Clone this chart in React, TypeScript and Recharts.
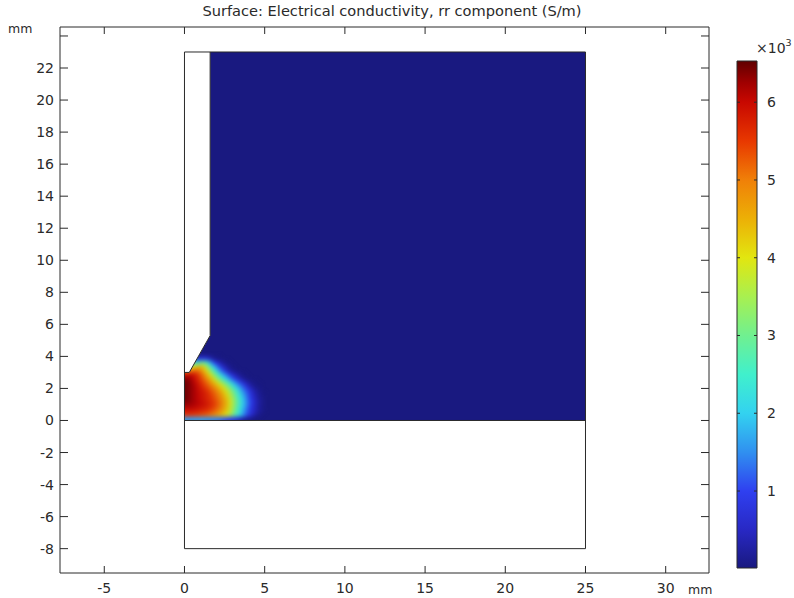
import { ComposedChart, Area, Line, XAxis, YAxis, ReferenceArea } from 'recharts'

const W = 794
const H = 598
const FONT = '"DejaVu Sans", sans-serif'
const INK = '#2a2a2a'
const DOMAIN_BLUE = '#191980'

const xTicks = [-5, 0, 5, 10, 15, 20, 25, 30]
const yTicks = [-8, -6, -4, -2, 0, 2, 4, 6, 8, 10, 12, 14, 16, 18, 20, 22, 24]
const xRange = [-7.76, 32.7]
const yRange = [-9.52, 24.56]

// geometry, mm
const solidR = [0, 0.3, 1.6, 1.6, 25, 25]
const solidZ = [3, 3, 5.3, 23, 23, 0]
const boxR = [0, 25, 25, 0, 0]
const boxZ = [-8, -8, 23, 23, -8]
const interfaceR = [0, 25]
const interfaceZ = [0, 0]
const notchR = [0, 0.3, 1.6, 1.6]
const notchZ = [3, 3, 5.3, 23]

// colour scale, x10^3 S/m
const barLevels = [0.01, 0.5, 1, 1.5, 2, 2.5, 3, 3.5, 4, 4.5, 5, 5.5, 6, 6.25, 6.53]
const barColors = ['#191980', '#2828c4', '#2f40f0', '#3090f0', '#33d2f0', '#40f0cc', '#70f090', '#a8f050', '#e2e610', '#ecb006', '#f08008', '#e83800', '#c80800', '#a00000', '#600000']
const barTicks = [1, 2, 3, 4, 5, 6]
const barRange = [0.01, 6.53]
const barSpan = [0, 1]

// conductivity, x10^3 S/m, one row per 0.25 mm in z, columns per 0.25 mm in r
const heatStep = 0.25
const row000 = [1.6, 1.6, 1.6, 1.6, 1.6, 1.55, 1.5, 1.45, 1.4, 1.25, 1.1, 0.95, 0.8, 0.55, 0.3, 0.15, 0.08]
const row025 = [5.5, 5.5, 5.45, 5.4, 5.3, 5.2, 5.05, 4.85, 4.6, 4.3, 4.0, 3.5, 2.9, 2.3, 1.7, 1.15, 0.7, 0.35, 0.12]
const row050 = [5.85, 5.85, 5.8, 5.75, 5.65, 5.55, 5.4, 5.2, 4.95, 4.65, 4.25, 3.75, 3.1, 2.5, 1.85, 1.3, 0.85, 0.5, 0.25, 0.1]
const row075 = [6.15, 6.1, 6.05, 5.95, 5.85, 5.75, 5.6, 5.4, 5.15, 4.8, 4.4, 3.85, 3.25, 2.6, 2.0, 1.45, 0.95, 0.55, 0.25, 0.08]
const row100 = [6.35, 6.25, 6.15, 6.05, 5.95, 5.8, 5.65, 5.45, 5.2, 4.85, 4.45, 3.9, 3.3, 2.7, 2.1, 1.55, 1.05, 0.6, 0.3, 0.1]
const row125 = [6.45, 6.3, 6.15, 6.0, 5.85, 5.7, 5.55, 5.35, 5.1, 4.75, 4.35, 3.8, 3.25, 2.6, 2.0, 1.45, 0.95, 0.55, 0.25, 0.1]
const row150 = [6.45, 6.3, 6.15, 6.0, 5.85, 5.7, 5.5, 5.25, 5.0, 4.6, 4.15, 3.65, 3.05, 2.45, 1.85, 1.35, 0.85, 0.45, 0.2, 0.05]
const row175 = [6.45, 6.3, 6.15, 5.95, 5.8, 5.6, 5.35, 5.1, 4.75, 4.35, 3.9, 3.4, 2.8, 2.2, 1.6, 1.15, 0.7, 0.35, 0.15]
const row200 = [6.45, 6.3, 6.15, 5.9, 5.65, 5.4, 5.15, 4.8, 4.4, 4.0, 3.5, 2.9, 2.3, 1.75, 1.25, 0.8, 0.4, 0.15, 0.05]
const row225 = [6.45, 6.3, 6.05, 5.8, 5.5, 5.2, 4.8, 4.4, 3.9, 3.4, 2.85, 2.3, 1.7, 1.2, 0.8, 0.4, 0.15, 0.05]
const row250 = [6.35, 6.2, 5.95, 5.65, 5.3, 4.9, 4.45, 3.85, 3.2, 2.6, 2.0, 1.45, 0.95, 0.55, 0.25, 0.08]
const row275 = [5.9, 6.0, 5.8, 5.5, 5.1, 4.55, 3.95, 3.25, 2.6, 1.9, 1.35, 0.85, 0.45, 0.2, 0.05]
const row300 = [5.0, 5.0, 5.2, 5.1, 4.7, 4.1, 3.35, 2.6, 1.8, 1.15, 0.6, 0.25, 0.08]
const row325 = [4.0, 4.0, 4.0, 4.4, 4.3, 3.6, 2.7, 1.9, 1.15, 0.65, 0.3, 0.08]
const row350 = [2.5, 2.5, 2.5, 2.5, 3.0, 2.6, 1.7, 1.0, 0.5, 0.2, 0.05]
const row375 = [0.7, 0.7, 0.7, 0.7, 0.8, 0.7, 0.4, 0.15, 0.05]
const heatRows = [row000, row025, row050, row075, row100, row125, row150, row175, row200, row225, row250, row275, row300, row325, row350, row375]

function colorFor(v: number): string {
  let i = 0
  while (i < barLevels.length - 2 && v > barLevels[i + 1]) i++
  const t = Math.min(1, Math.max(0, (v - barLevels[i]) / (barLevels[i + 1] - barLevels[i])))
  const hex = (c: string, k: number) => parseInt(c.slice(1 + k * 2, 3 + k * 2), 16)
  const mix = [0, 1, 2].map((k) => Math.round(hex(barColors[i], k) * (1 - t) + hex(barColors[i + 1], k) * t))
  return `rgb(${mix.join(',')})`
}

const zip = (r: number[], z: number[]) => r.map((x, i) => ({ x, z: z[i] }))

const solidData = zip(solidR, solidZ)
const boxData = zip(boxR, boxZ)
const interfaceData = zip(interfaceR, interfaceZ)
const notchData = zip(notchR, notchZ)
const notchMask = notchR.slice(0, 3).map((x, i) => ({ x, band: [notchZ[i], 23] }))

const layer: React.CSSProperties = { position: 'absolute', left: 0, top: 0 }
const label = (extra: React.CSSProperties): React.CSSProperties => ({
  position: 'absolute',
  fontFamily: FONT,
  color: INK,
  whiteSpace: 'nowrap',
  ...extra,
})

const fullMargin = { top: 27, right: 85, bottom: 25, left: 60 }
const axisMargin = { top: 26, right: 84, bottom: 24, left: 59 }
const barMargin = { top: 60, right: 36, bottom: 29, left: 736 }
const axisLine = { stroke: INK, strokeWidth: 1 }
const textProps = { fill: INK, fontSize: 14, fontFamily: FONT }

// ticks point into the plot, so they are drawn with the labels
const leftTick = (size: number, labelled: boolean) => ({ x, y, payload }: any) => (
  <g>
    <line x1={x} x2={x + size} y1={y} y2={y} stroke={INK} />
    {labelled && payload.value !== 24 && (
      <text x={x - 6} y={y + 5} textAnchor="end" {...textProps}>{payload.value}</text>
    )}
  </g>
)
const rightTick = (size: number, labelled: boolean) => ({ x, y, payload }: any) => (
  <g>
    <line x1={x - size} x2={x} y1={y} y2={y} stroke={INK} />
    {labelled && <text x={x + 10} y={y + 5} {...textProps}>{payload.value}</text>}
  </g>
)
const bottomTick = ({ x, y, payload }: any) => (
  <g>
    <line x1={x} x2={x} y1={y - 7} y2={y} stroke={INK} />
    <text x={x} y={y + 20} textAnchor="middle" {...textProps}>{payload.value}</text>
  </g>
)
const topTick = ({ x, y }: any) => <line x1={x} x2={x} y1={y} y2={y + 7} stroke={INK} />

export default function App() {
  return (
    <div style={{ position: 'absolute', left: 0, top: 0, width: W, height: H, background: '#fff', overflow: 'hidden' }}>
      {/* gradient lives in the page so the legend chart can point at it */}
      <svg width={0} height={0} style={{ position: 'absolute' }}>
        <defs>
          <linearGradient id="rainbow" x1="0" y1="1" x2="0" y2="0">
            {barLevels.map((v, i) => (
              <stop key={v} offset={(v - barRange[0]) / (barRange[1] - barRange[0])} stopColor={barColors[i]} />
            ))}
          </linearGradient>
        </defs>
      </svg>

      {/* domain fill */}
      <div style={layer}>
        <ComposedChart width={W} height={H} margin={fullMargin}>
          <XAxis type="number" dataKey="x" domain={xRange} allowDataOverflow hide />
          <YAxis type="number" domain={yRange} allowDataOverflow hide />
          <Area data={solidData} dataKey="z" type="linear" fill={DOMAIN_BLUE} fillOpacity={1} stroke="none" isAnimationActive={false} />
        </ComposedChart>
      </div>

      {/* hot spot, softened so the cells read as a continuous surface */}
      <div style={{ ...layer, filter: 'blur(2px)' }}>
        <ComposedChart width={W} height={H} margin={fullMargin}>
          <XAxis type="number" dataKey="x" domain={xRange} allowDataOverflow hide />
          <YAxis type="number" domain={yRange} allowDataOverflow hide />
          {heatRows.flatMap((row, j) =>
            row.map((v, i) => (
              <ReferenceArea
                key={`${j}-${i}`}
                x1={i === 0 ? -0.5 : i * heatStep}
                x2={(i + 1) * heatStep}
                y1={j === 0 ? -0.5 : j * heatStep}
                y2={(j + 1) * heatStep}
                fill={colorFor(v)}
                fillOpacity={1}
                stroke={colorFor(v)}
                strokeWidth={0.5}
              />
            )),
          )}
        </ComposedChart>
      </div>

      {/* masks, outlines and frame */}
      <div style={layer}>
        <ComposedChart width={W} height={H} margin={axisMargin}>
          <XAxis type="number" dataKey="x" domain={xRange} allowDataOverflow ticks={xTicks} interval={0} height={1} tickSize={0} tickMargin={0} tick={bottomTick} axisLine={axisLine} tickLine={false} />
          <XAxis xAxisId="top" orientation="top" type="number" dataKey="x" domain={xRange} allowDataOverflow ticks={xTicks} interval={0} height={1} tickSize={0} tickMargin={0} tick={topTick} axisLine={axisLine} tickLine={false} />
          <YAxis type="number" domain={yRange} allowDataOverflow ticks={yTicks} interval={0} width={1} tickSize={0} tickMargin={0} tick={leftTick(8, true)} axisLine={axisLine} tickLine={false} />
          <YAxis yAxisId="right" orientation="right" type="number" domain={yRange} allowDataOverflow ticks={yTicks} interval={0} width={1} tickSize={0} tickMargin={0} tick={rightTick(8, false)} axisLine={axisLine} tickLine={false} />
          <ReferenceArea x1={-1} x2={0} y1={-1} y2={5} fill="#fff" fillOpacity={1} stroke="none" />
          <ReferenceArea x1={-1} x2={7} y1={-1} y2={0} fill="#fff" fillOpacity={1} stroke="none" />
          <Area data={notchMask} dataKey="band" type="linear" fill="#fff" fillOpacity={1} stroke="none" isAnimationActive={false} />
          <Line data={boxData} dataKey="z" type="linear" stroke={INK} strokeWidth={1} dot={false} isAnimationActive={false} />
          <Line data={interfaceData} dataKey="z" type="linear" stroke={INK} strokeWidth={1} dot={false} isAnimationActive={false} />
          <Line data={notchData} dataKey="z" type="linear" stroke={INK} strokeWidth={1} dot={false} isAnimationActive={false} />
        </ComposedChart>
      </div>

      {/* colour legend */}
      <div style={layer}>
        <ComposedChart width={W} height={H} margin={barMargin}>
          <XAxis type="number" dataKey="x" domain={barSpan} allowDataOverflow height={1} axisLine={axisLine} tick={false} tickLine={false} />
          <XAxis xAxisId="top" orientation="top" type="number" dataKey="x" domain={barSpan} allowDataOverflow height={1} axisLine={axisLine} tick={false} tickLine={false} />
          <YAxis type="number" domain={barRange} allowDataOverflow ticks={barTicks} interval={0} width={1} tickSize={0} tickMargin={0} tick={leftTick(3, false)} axisLine={axisLine} tickLine={false} />
          <YAxis yAxisId="right" orientation="right" type="number" domain={barRange} allowDataOverflow ticks={barTicks} interval={0} width={1} tickSize={0} tickMargin={0} tick={rightTick(3, true)} axisLine={axisLine} tickLine={false} />
          <ReferenceArea x1={barSpan[0]} x2={barSpan[1]} y1={barRange[0]} y2={barRange[1]} fill="url(#rainbow)" fillOpacity={1} stroke="none" />
        </ComposedChart>
      </div>

      <div style={label({ left: 0, width: W - 10, top: 2, textAlign: 'center', fontSize: 14.6 })}>
        Surface: Electrical conductivity, rr component (S/m)
      </div>
      <div style={label({ left: 8, top: 21, fontSize: 12.5 })}>mm</div>
      <div style={label({ left: 688, top: 582, fontSize: 12.5 })}>mm</div>
      <div style={label({ left: 756, top: 40, fontSize: 14 })}>
        ×10<sup style={{ fontSize: 9.5, position: 'relative', top: -1, verticalAlign: 'super', lineHeight: 0 }}>3</sup>
      </div>
    </div>
  )
}
